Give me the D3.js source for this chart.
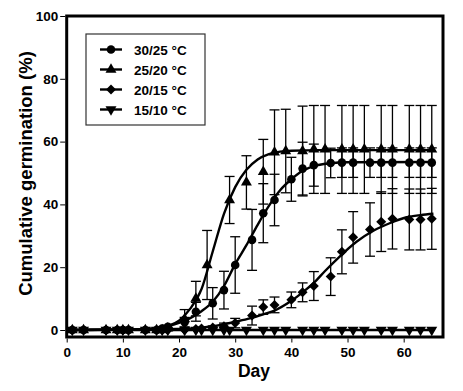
<!DOCTYPE html>
<meta charset="utf-8">
<script src="https://d3js.org/d3.v7.min.js"></script>
<style>
  body { margin: 0; background: #fff; }
  text { font-family: Arial, "Liberation Sans", Helvetica, sans-serif; font-weight: bold; fill: #000; }
</style>
<div id="my_dataviz"></div>
<script>

// ---- data ----
var early = [1, 3, 7, 9, 10, 11, 14, 16, 17, 18];

// 30/25 °C (circles)
var days30 = early.concat([21, 23, 26, 28, 30, 33, 35, 37, 40, 42, 44, 47, 49, 51, 54, 56, 58, 61, 63, 65]);
var germ30 = [0, 0, 0, 0, 0, 0, 0, 0, 0.5, 1, 2.5, 5.8, 8.5, 12.7, 20.7, 28.7, 37.2, 41.4, 48, 51.4, 52.5, 53.2, 53.3, 53.3, 53.3, 53.3, 53.3, 53.3, 53.3, 53.3];
var err30  = [0, 0, 0, 0, 0, 0, 0, 0, 0, 0.5, 1.5, 3, 5, 6, 9, 9.7, 9.4, 8.2, 7, 8.4, 6.7, 4.7, 4.7, 4.7, 4.7, 4.7, 4.7, 4.7, 4.7, 4.7];

// 25/20 °C (triangles up)
var days25 = early.concat([21, 23, 25, 29, 32, 35, 37, 39, 42, 44, 46, 49, 51, 53, 56, 58, 61, 63, 65]);
var germ25 = [0, 0, 0, 0, 0, 0, 0, 0, 0, 0.5, 3.5, 10, 20.7, 41.4, 47, 50.4, 56.6, 57, 57, 57.5, 57.5, 57.5, 57.5, 57.5, 57.5, 57.5, 57.5, 57.5, 57.5];
var err25  = [0, 0, 0, 0, 0, 0, 0, 0, 0, 0, 3, 5.5, 11, 7.5, 8.5, 10.3, 13.5, 13.3, 14.3, 14, 14, 14, 14, 14, 14, 14, 14, 14, 14];

// 20/15 °C (diamonds)
var days20 = early.concat([21, 23, 24, 26, 28, 30, 33, 35, 37, 40, 42, 44, 47, 49, 51, 54, 56, 58, 61, 63, 65]);
var germ20 = [0, 0, 0, 0, 0, 0, 0, 0, 0, 0, 0, 0.3, 0.5, 0.8, 1.2, 2.2, 4.6, 7.3, 8, 9.6, 12, 14, 17, 24.9, 29.5, 32, 34.5, 35.4, 35.2, 35.2, 35.4];
var err20  = [0, 0, 0, 0, 0, 0, 0, 0, 0, 0, 0, 0, 0, 0.5, 1, 1.5, 3, 2.3, 2.5, 2.5, 3, 4.6, 6, 7, 8.2, 8.5, 9.5, 9.6, 9.7, 9.7, 9.7];

// 15/10 °C (triangles down)
var days15 = early.concat([21, 23, 24, 26, 28, 29, 32, 35, 37, 39, 42, 44, 46, 49, 51, 53, 56, 58, 61, 63, 65]);
var germ15 = days15.map(function() { return 0; });

// fitted curves
var fit30Days = [1, 14, 16, 18, 20, 22, 24, 26, 28, 30, 32, 34, 36, 38, 40, 42, 44, 47, 50, 65];
var fit30Vals = [0, 0.3, 0.7, 1.3, 2.3, 3.8, 6, 9, 14, 21, 27, 33.5, 39.5, 44.5, 48, 50.7, 52.2, 53.1, 53.4, 53.5];
var fit25Days = [1, 14, 16, 18, 20, 22, 24, 26, 28, 30, 32, 34, 36, 38, 40, 45, 65];
var fit25Vals = [0, 0.2, 0.6, 1.3, 3, 6.8, 13, 25, 37, 45.5, 51, 54.3, 56, 56.8, 57.1, 57.3, 57.3];
var fit20Days = [1, 20, 25, 28, 30, 32.6, 35, 37, 40, 42, 44, 46, 48.6, 51.6, 54.6, 57.5, 60.5, 63, 65.3];
var fit20Vals = [0, 0.3, 1, 1.8, 2.6, 3.7, 5, 6.2, 9.3, 12, 15, 18.8, 23.4, 28.1, 31.6, 34, 35.9, 36.6, 37];
var fit15Days = [1, 65];
var fit15Vals = [0, 0];

var labels = ["30/25 °C", "25/20 °C", "20/15 °C", "15/10 °C"];
var xTicks = [0, 10, 20, 30, 40, 50, 60];
var yTicks = [0, 20, 40, 60, 80, 100];

// ---- setup ----
var W = 463, H = 391;
var svg = d3.select("#my_dataviz")
  .append("svg")
    .attr("width", W)
    .attr("height", H);

var x = d3.scaleLinear().domain([0, 67]).range([66.7, 443]);
var y = d3.scaleLinear().domain([0, 100]).range([330, 16]);
var yBottom = y(0) + 7;

// marker shapes
function markerPath(kind) {
  if (kind == "circle") return d3.symbol().type(d3.symbolCircle).size(58)();
  if (kind == "up") return d3.symbol().type(d3.symbolTriangle).size(52)();
  if (kind == "down") return d3.symbol().type(d3.symbolTriangle).size(52)();
  return d3.symbol().type(d3.symbolSquare).size(50)();
}
function markerTransform(kind, px, py) {
  if (kind == "down") return "translate(" + px + "," + py + ") rotate(180)";
  if (kind == "diamond") return "translate(" + px + "," + py + ") rotate(45)";
  return "translate(" + px + "," + py + ")";
}

var series = [
  {days: days30, vals: germ30, errs: err30, kind: "circle", fd: fit30Days, fv: fit30Vals},
  {days: days25, vals: germ25, errs: err25, kind: "up", fd: fit25Days, fv: fit25Vals},
  {days: days20, vals: germ20, errs: err20, kind: "diamond", fd: fit20Days, fv: fit20Vals},
  {days: days15, vals: germ15, errs: null, kind: "down", fd: fit15Days, fv: fit15Vals}
];

// error bars
var errG = svg.append("g").attr("stroke", "#000").attr("stroke-width", 1.3);
series.forEach(function(s) {
  if (!s.errs) return;
  s.days.forEach(function(d, i) {
    var e = s.errs[i];
    if (e <= 0) return;
    var px = x(d), top = y(s.vals[i] + e), bot = y(s.vals[i] - e);
    errG.append("line").attr("x1", px).attr("x2", px).attr("y1", top).attr("y2", bot);
    errG.append("line").attr("x1", px - 5).attr("x2", px + 5).attr("y1", top).attr("y2", top);
    errG.append("line").attr("x1", px - 5).attr("x2", px + 5).attr("y1", bot).attr("y2", bot);
  });
});

// fitted curves
var line = d3.line()
  .x(function(d) { return x(d[0]); })
  .y(function(d) { return y(d[1]); })
  .curve(d3.curveMonotoneX);

series.forEach(function(s) {
  svg.append("path")
    .datum(s.fd.map(function(d, i) { return [d, s.fv[i]]; }))
    .attr("d", line)
    .attr("fill", "none")
    .attr("stroke", "#000")
    .attr("stroke-width", 2.4);
});

// markers
series.forEach(function(s) {
  svg.append("g")
    .selectAll("path")
    .data(s.days)
    .enter()
    .append("path")
      .attr("d", markerPath(s.kind))
      .attr("transform", function(d, i) { return markerTransform(s.kind, x(d), y(s.vals[i])); })
      .attr("fill", "#000");
});

// frame
svg.append("rect")
  .attr("x", x(0))
  .attr("y", y(100))
  .attr("width", x(67) - x(0))
  .attr("height", yBottom - y(100))
  .attr("fill", "none")
  .attr("stroke", "#000")
  .attr("stroke-width", 3);

// axes
var yAxis = svg.append("g")
  .attr("transform", "translate(" + (x(0) - 1.5) + ",0)")
  .call(d3.axisLeft(y).tickValues(yTicks).tickSize(5).tickPadding(2).tickSizeOuter(0));
yAxis.select(".domain").remove();
yAxis.selectAll("text").style("font-size", "13.5px").style("font-family", "Arial, 'Liberation Sans', sans-serif").style("font-weight", "bold");

var xAxis = svg.append("g")
  .attr("transform", "translate(0," + (yBottom + 1.5) + ")")
  .call(d3.axisBottom(x).tickValues(xTicks).tickSize(4).tickPadding(5).tickSizeOuter(0));
xAxis.select(".domain").remove();
xAxis.selectAll("text").style("font-size", "13.5px").style("font-family", "Arial, 'Liberation Sans', sans-serif").style("font-weight", "bold");

// axis titles
svg.append("text")
  .attr("x", 254)
  .attr("y", 377)
  .attr("text-anchor", "middle")
  .style("font-size", "17.5px")
  .text("Day");

svg.append("text")
  .attr("transform", "translate(32," + 173.5 + ") rotate(-90)")
  .attr("text-anchor", "middle")
  .style("font-size", "18.5px")
  .text("Cumulative germination (%)");

// legend
var legend = svg.append("g");
legend.append("rect")
  .attr("x", 86).attr("y", 34)
  .attr("width", 119).attr("height", 91)
  .attr("fill", "#fff")
  .attr("stroke", "#333")
  .attr("stroke-width", 1.2);

var kinds = ["circle", "up", "diamond", "down"];
labels.forEach(function(lab, i) {
  var ly = 49.5 + i * 20;
  legend.append("line")
    .attr("x1", 100).attr("x2", 122)
    .attr("y1", ly).attr("y2", ly)
    .attr("stroke", "#000").attr("stroke-width", 2.4);
  legend.append("path")
    .attr("d", markerPath(kinds[i]))
    .attr("transform", markerTransform(kinds[i], 111, ly))
    .attr("fill", "#000");
  legend.append("text")
    .attr("x", 134)
    .attr("y", ly + 5)
    .style("font-size", "13.5px")
    .text(lab);
});

</script>
